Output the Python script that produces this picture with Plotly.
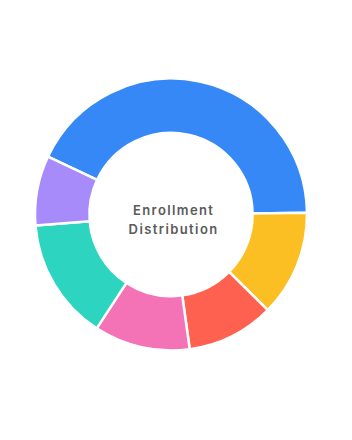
import plotly.graph_objects as go

# Data
categories = ["Engineering", "Business", "Health Sciences", "Arts & Humanities", "Natural Sciences", "Education"]
shares = [42.8, 12.6, 10.4, 11.4, 14.5, 8.3]
colors = ["#3788F7", "#FBBF24", "#FF6150", "#F472B6", "#2DD4BF", "#A78BFA"]
center_lines = ["Enrollment", "Distribution"]

fig = go.Figure(
    go.Pie(
        labels=categories,
        values=shares,
        hole=0.6,
        sort=False,
        direction="clockwise",
        rotation=-64.8,
        marker=dict(colors=colors, line=dict(color="#ffffff", width=2.5)),
        textinfo="none",
        hoverinfo="label+percent",
        showlegend=False,
    )
)

for line, shift in zip(center_lines, [5, -14]):
    fig.add_annotation(
        text=line,
        x=0.5, y=0.5, xref="paper", yref="paper",
        xanchor="center", yanchor="middle",
        yshift=shift, xshift=2.5,
        showarrow=False,
        font=dict(family="Inter", size=13, color="#5a5a5a", weight=600),
    )

fig.update_layout(
    width=352,
    height=440,
    margin=dict(l=35, r=45, t=30, b=41),
    paper_bgcolor="#ffffff",
    plot_bgcolor="#ffffff",
    showlegend=False,
)

post = """
document.querySelectorAll('.annotation-text').forEach(function(t){ t.style.letterSpacing = '1.4px'; });
"""

fig.write_html("out.html", post_script=post, config={"displayModeBar": False})
